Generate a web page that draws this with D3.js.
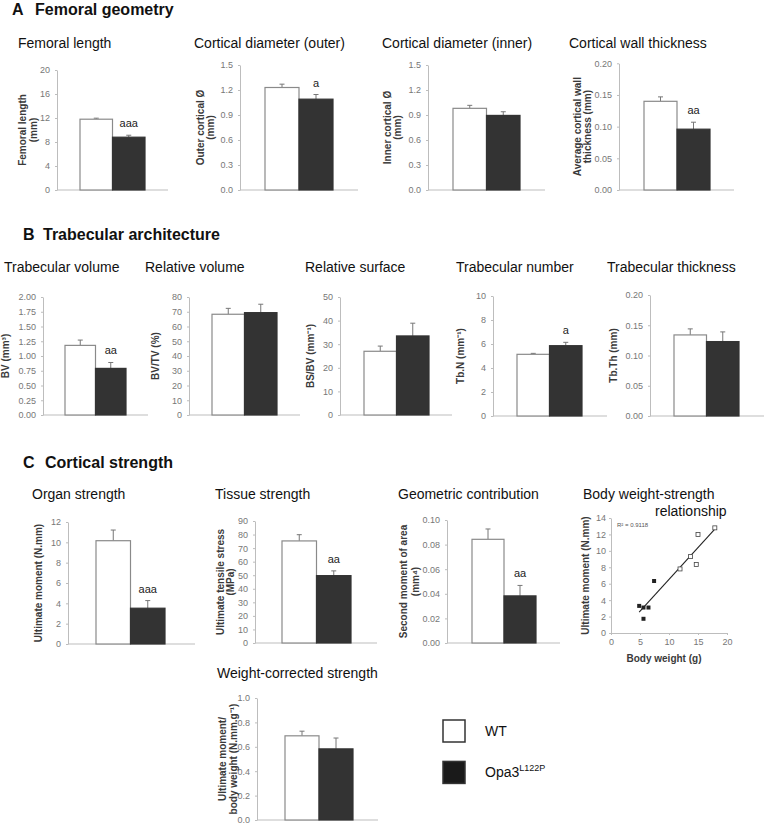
<!DOCTYPE html>
<html><head><meta charset="utf-8">
<script src="https://cdn.jsdelivr.net/npm/d3@7"></script>
<style>
body{margin:0;background:#fff;}
svg{font-family:"Liberation Sans", Arial, Helvetica, sans-serif;}
</style></head><body>
<svg id="fig" width="764" height="825"></svg>
<script>
// ---------------- DATA ----------------
const groups = ["WT", "Opa3L122P"];
// Panel A – femoral geometry
const femLengthMean = [11.8, 8.8];     const femLengthErr = [0.17, 0.33];
const outerDiamMean = [1.23, 1.09];    const outerDiamErr = [0.04, 0.056];
const innerDiamMean = [0.98, 0.895];   const innerDiamErr = [0.036, 0.044];
const wallMean      = [0.140, 0.096];  const wallErr      = [0.007, 0.011];
// Panel B – trabecular architecture
const bvMean   = [1.18, 0.79];   const bvErr   = [0.09, 0.10];
const bvtvMean = [68.3, 69.4];   const bvtvErr = [4.0, 5.7];
const bsbvMean = [27.0, 33.5];   const bsbvErr = [2.2, 5.4];
const tbnMean  = [5.14, 5.86];   const tbnErr  = [0.08, 0.28];
const tbthMean = [0.134, 0.123]; const tbthErr = [0.010, 0.016];
// Panel C – cortical strength
const organMean  = [10.16, 3.52];   const organErr  = [1.05, 0.75];
const tissueMean = [75.3, 49.7];    const tissueErr = [4.6, 3.5];
const geomMean   = [0.0843, 0.0383]; const geomErr  = [0.0084, 0.0085];
const wcMean     = [0.69, 0.583];   const wcErr     = [0.038, 0.089];
// Scatter: body weight (g) vs ultimate moment (N.mm)
const wtWeight  = [11.9, 13.7, 14.7, 15.0, 17.9];
const wtMoment  = [7.8, 9.3, 8.35, 12.0, 12.8];
const mutWeight = [4.86, 5.6, 6.46, 5.6, 7.43];
const mutMoment = [3.3, 3.1, 3.1, 1.73, 6.33];
const r2Label = "R² = 0.9118";
// significance labels
const sigLabels = {femLength:"aaa", outer:"a", inner:"", wall:"aa", bv:"aa", bvtv:"", bsbv:"", tbn:"a", tbth:"", organ:"aaa", tissue:"aa", geom:"aa", wc:""};

// ---------------- CHART SPECS ----------------
const charts = [
  {key:"femLength", title:"Femoral length", mean:femLengthMean, err:femLengthErr, max:20, step:4, dec:0, ylab:["Femoral length","(mm)"]},
  {key:"outer", title:"Cortical diameter (outer)", mean:outerDiamMean, err:outerDiamErr, max:1.5, step:0.3, dec:1, ylab:["Outer cortical Ø","(mm)"]},
  {key:"inner", title:"Cortical diameter (inner)", mean:innerDiamMean, err:innerDiamErr, max:1.5, step:0.3, dec:1, ylab:["Inner cortical Ø","(mm)"]},
  {key:"wall", title:"Cortical wall thickness", mean:wallMean, err:wallErr, max:0.2, step:0.05, dec:2, ylab:["Average cortical wall","thickness (mm)"]},
  {key:"bv", title:"Trabecular volume", mean:bvMean, err:bvErr, max:2, step:0.25, dec:2, ylab:["BV (mm³)"]},
  {key:"bvtv", title:"Relative volume", mean:bvtvMean, err:bvtvErr, max:80, step:10, dec:0, ylab:["BV/TV (%)"]},
  {key:"bsbv", title:"Relative surface", mean:bsbvMean, err:bsbvErr, max:50, step:10, dec:0, ylab:["BS/BV (mm⁻¹)"]},
  {key:"tbn", title:"Trabecular number", mean:tbnMean, err:tbnErr, max:10, step:2, dec:0, ylab:["Tb.N (mm⁻¹)"]},
  {key:"tbth", title:"Trabecular thickness", mean:tbthMean, err:tbthErr, max:0.2, step:0.05, dec:2, ylab:["Tb.Th (mm)"]},
  {key:"organ", title:"Organ strength", mean:organMean, err:organErr, max:12, step:2, dec:0, ylab:["Ultimate moment (N.mm)"]},
  {key:"tissue", title:"Tissue strength", mean:tissueMean, err:tissueErr, max:90, step:10, dec:0, ylab:["Ultimate tensile stress","(MPa)"]},
  {key:"geom", title:"Geometric contribution", mean:geomMean, err:geomErr, max:0.1, step:0.02, dec:2, ylab:["Second moment of area","(mm⁴)"]},
  {key:"wc", title:"Weight-corrected strength", mean:wcMean, err:wcErr, max:1.0, step:0.2, dec:1, ylab:["Ultimate moment/","body weight (N.mm.g⁻¹)"]}
];

// ---------------- LAYOUT ----------------
const layout = {
  femLength:{ax:57, l:80, r:145, end:168, top:70, bot:190, tx:18, ty:48, lab:[-35,-24]},
  outer:{ax:240, l:265, r:333, end:358, top:65, bot:190, tx:194, ty:48, lab:[-40,-30]},
  inner:{ax:428, l:453, r:520, end:545, top:65, bot:190, tx:382, ty:48, lab:[-41,-31]},
  wall:{ax:619, l:644, r:710, end:734, top:63.3, bot:190, tx:569, ty:48, lab:[-42,-32]},
  bv:{ax:43, l:65, r:126, end:148, top:297, bot:415, tx:4, ty:272, lab:[-38]},
  bvtv:{ax:189, l:212, r:277, end:300, top:297, bot:415, tx:145, ty:272, lab:[-34]},
  bsbv:{ax:340, l:364, r:429, end:452, top:297, bot:415, tx:305, ty:272, lab:[-30]},
  tbn:{ax:493, l:517, r:582, end:607, top:296, bot:416, tx:456, ty:272, lab:[-33]},
  tbth:{ax:650, l:674, r:739, end:764, top:295, bot:416, tx:607, ty:272, lab:[-37]},
  organ:{ax:68, l:96, r:165, end:195, top:522, bot:644, tx:32, ty:499, lab:[-30]},
  tissue:{ax:255, l:282, r:351, end:377, top:521, bot:643, tx:215, ty:499, lab:[-35,-25]},
  geom:{ax:447, l:472, r:536, end:560, top:520, bot:643, tx:398, ty:499, lab:[-44,-32]},
  wc:{ax:257, l:285, r:353, end:378, top:698, bot:820, tx:217, ty:678, lab:[-35,-24]}
};

const svg = d3.select("#fig");
const axisCol = "#bdbdbd", tickCol = "#777", labCol = "#3a3a3a";

function sectionTitle(letter, text, x, xt, y){
  svg.append("text").attr("x",x).attr("y",y).attr("font-size",16).attr("font-weight","bold").attr("fill","#111").text(letter);
  svg.append("text").attr("x",xt).attr("y",y).attr("font-size",16).attr("font-weight","bold").attr("fill","#111").text(text);
}
sectionTitle("A","Femoral geometry",12,35,15);
sectionTitle("B","Trabecular architecture",23,43,240);
sectionTitle("C","Cortical strength",23,45,468);

function yLabel(g, lines, ax, offs, cy){
  lines.forEach((t,i)=>{
    g.append("text").attr("transform",`translate(${ax+offs[i]+3.5},${cy}) rotate(-90)`)
      .attr("text-anchor","middle").attr("font-size",10).attr("font-weight","bold").attr("fill",labCol).text(t);
  });
}

function styleAxis(sel){
  sel.select(".domain").attr("stroke",axisCol);
  sel.selectAll(".tick line").attr("stroke",axisCol);
  sel.selectAll(".tick text").attr("fill",tickCol).attr("font-size",9).attr("font-family","Liberation Sans, Arial, sans-serif");
}

charts.forEach(c=>{
  const L = layout[c.key];
  const g = svg.append("g");
  const y = d3.scaleLinear().domain([0,c.max]).range([L.bot,L.top]);
  const x = d3.scaleBand().domain(groups).range([L.l,L.r]).padding(0);
  const ticks = d3.range(0, c.max + c.step/2, c.step);
  const ax = d3.axisLeft(y).tickValues(ticks).tickFormat(d3.format(`.${c.dec}f`)).tickSize(2).tickSizeOuter(0).tickPadding(5);
  g.append("g").attr("transform",`translate(${L.ax},0)`).call(ax).call(styleAxis);
  g.append("line").attr("x1",L.ax).attr("x2",L.end).attr("y1",y(0)).attr("y2",y(0)).attr("stroke",axisCol);
  groups.forEach((gr,i)=>{
    const cx = x(gr) + x.bandwidth()/2;
    g.append("line").attr("x1",cx).attr("x2",cx).attr("y1",y(c.mean[i])).attr("y2",y(c.mean[i]+c.err[i])).attr("stroke","#777").attr("stroke-width",1);
    g.append("line").attr("x1",cx-2.5).attr("x2",cx+2.5).attr("y1",y(c.mean[i]+c.err[i])).attr("y2",y(c.mean[i]+c.err[i])).attr("stroke","#777").attr("stroke-width",1);
  });
  g.selectAll("rect").data(groups).enter().append("rect")
    .attr("x",d=>x(d)).attr("width",x.bandwidth())
    .attr("y",(d,i)=>y(c.mean[i])).attr("height",(d,i)=>y(0)-y(c.mean[i]))
    .attr("fill",(d,i)=>i===0?"#fff":"#333")
    .attr("stroke",(d,i)=>i===0?"#8a8a8a":"#333").attr("stroke-width",1.2);
  const sig = sigLabels[c.key];
  if(sig){
    g.append("text").attr("x",x(groups[1])+x.bandwidth()/2).attr("y",y(c.mean[1]+c.err[1])-8)
      .attr("text-anchor","middle").attr("font-size",11).attr("fill","#222").text(sig);
  }
  g.append("text").attr("x",L.tx).attr("y",L.ty).attr("font-size",14).attr("fill","#111").text(c.title);
  yLabel(g, c.ylab, L.ax, L.lab, (L.top+L.bot)/2);
});

// ---------------- SCATTER ----------------
(function(){
  const g = svg.append("g");
  const x = d3.scaleLinear().domain([0,20]).range([611,727]);
  const y = d3.scaleLinear().domain([0,14]).range([633,518]);
  const ya = d3.axisLeft(y).tickValues(d3.range(0,15,2)).tickSize(2).tickSizeOuter(0).tickPadding(3);
  const xa = d3.axisBottom(x).tickValues([0,5,10,15,20]).tickSize(2).tickSizeOuter(0).tickPadding(4);
  g.append("g").attr("transform","translate(611,0)").call(ya).call(styleAxis);
  g.append("g").attr("transform","translate(0,633)").call(xa).call(styleAxis);
  // regression line (least squares on plotted points)
  const xs = wtWeight.concat(mutWeight), ys = wtMoment.concat(mutMoment);
  const mx = d3.mean(xs), my = d3.mean(ys);
  const slope = d3.sum(xs.map((v,i)=>(v-mx)*(ys[i]-my))) / d3.sum(xs.map(v=>(v-mx)*(v-mx)));
  const icpt = my - slope*mx;
  const x0 = d3.min(xs), x1 = d3.max(xs);
  g.append("line").attr("x1",x(x0)).attr("y1",y(icpt+slope*x0)).attr("x2",x(x1)).attr("y2",y(icpt+slope*x1)).attr("stroke","#222").attr("stroke-width",1.1);
  const s = 4;
  wtWeight.forEach((w,i)=>{
    g.append("rect").attr("x",x(w)-s/2).attr("y",y(wtMoment[i])-s/2).attr("width",s).attr("height",s).attr("fill","#fff").attr("stroke","#444").attr("stroke-width",0.8);
  });
  mutWeight.forEach((w,i)=>{
    g.append("rect").attr("x",x(w)-s/2).attr("y",y(mutMoment[i])-s/2).attr("width",s).attr("height",s).attr("fill","#222");
  });
  g.append("text").attr("x",617).attr("y",527).attr("font-size",6).attr("fill","#555").text(r2Label);
  g.append("text").attr("x",583).attr("y",499).attr("font-size",14).attr("fill","#111").text("Body weight-strength");
  g.append("text").attr("x",655).attr("y",516).attr("font-size",14).attr("fill","#111").text("relationship");
  g.append("text").attr("transform",`translate(${585+3.5},${(518+633)/2}) rotate(-90)`).attr("text-anchor","middle")
    .attr("font-size",10).attr("font-weight","bold").attr("fill",labCol).text("Ultimate moment (N.mm)");
  g.append("text").attr("x",664).attr("y",662).attr("text-anchor","middle").attr("font-size",10).attr("font-weight","bold").attr("fill",labCol).text("Body weight (g)");
})();

// ---------------- LEGEND ----------------
(function(){
  const g = svg.append("g");
  const ly = d3.scaleBand().domain(groups).range([720,778]).paddingInner(0.6);
  groups.forEach((gr,i)=>{
    g.append("rect").attr("x",443).attr("y",ly(gr)).attr("width",22).attr("height",22)
      .attr("fill",i===0?"#fff":"#1a1a1a").attr("stroke","#333").attr("stroke-width",1.5);
  });
  g.append("text").attr("x",485).attr("y",ly(groups[0])+16).attr("font-size",14).attr("fill","#111").text("WT");
  const t = g.append("text").attr("x",485).attr("y",ly(groups[1])+16).attr("font-size",14).attr("fill","#111");
  t.append("tspan").text("Opa3");
  t.append("tspan").attr("font-size",9).attr("dy",-6).text("L122P");
})();
</script>
</body></html>
